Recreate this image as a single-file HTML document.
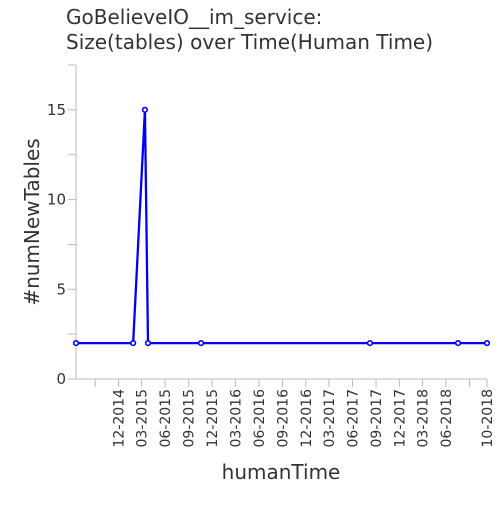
<!DOCTYPE html>
<html><head><meta charset="utf-8"><style>
body{margin:0;background:#fff}
svg text{font-family:"DejaVu Sans","Liberation Sans",sans-serif;fill:#333}
</style></head><body>
<svg id="c" width="500" height="500">
<text x="66" y="24" font-size="20">GoBelieveIO__im_service:</text>
<text x="66" y="49" font-size="20">Size(tables) over Time(Human Time)</text>
<text transform="translate(39,222) rotate(-90)" text-anchor="middle" font-size="20">#numNewTables</text>
<text x="281" y="479" text-anchor="middle" font-size="20">humanTime</text>
<g id="ax"></g><g id="pl"></g>
</svg>
<script>
const dates=["2014-06-18","2015-01-27","2015-03-14","2015-03-26","2015-10-19","2017-08-08","2018-07-18","2018-11-08"];
const values=[2,2,15,2,2,2,2,2];
const xTicks=["2014-09-01","2014-12-01","2015-03-01","2015-06-01","2015-09-01","2015-12-01","2016-03-01","2016-06-01","2016-09-01","2016-12-01","2017-03-01","2017-06-01","2017-09-01","2017-12-01","2018-03-01","2018-06-01","2018-09-01","2018-11-08"];
const xTickLabels=["","12-2014","03-2015","06-2015","09-2015","12-2015","03-2016","06-2016","09-2016","12-2016","03-2017","06-2017","09-2017","12-2017","03-2018","06-2018","","10-2018"];
const yTicks=[0,2.5,5,7.5,10,12.5,15,17.5];
const yTickLabels=["0","","5","","10","","15",""];
const NS="http://www.w3.org/2000/svg";
const X0=76,X1=487,Y0=379,Y1=65;
const t0=Date.parse(dates[0]),t1=Date.parse(dates[dates.length-1]);
const x=d=>X0+(Date.parse(d)-t0)/(t1-t0)*(X1-X0);
const y=v=>Y0-v/17.5*(Y0-Y1);
function mk(tag,at,p){const e=document.createElementNS(NS,tag);for(const k in at)e.setAttribute(k,at[k]);p.appendChild(e);return e;}
const ax=document.getElementById('ax'),pl=document.getElementById('pl');
let e=mk('line',{x1:X0,x2:X0,y1:Y1,y2:Y0,stroke:'#bbb'},ax);


e=mk('line',{x1:X0,x2:X1,y1:Y0,y2:Y0,stroke:'#bbb'},ax);


yTicks.forEach((v,i)=>{
 e=mk('line',{x1:X0-8,x2:X0,y1:y(v),y2:y(v),stroke:'#bbb'},ax);
 
 
 if(yTickLabels[i]){const t=mk('text',{x:X0-10,y:y(v)+5,'text-anchor':'end','font-size':15},ax);t.textContent=yTickLabels[i];
 
 }
});
xTicks.forEach((d,i)=>{
 const xx=x(d);
 e=mk('line',{x1:xx,x2:xx,y1:Y0,y2:Y0+8,stroke:'#bbb'},ax);
 
 
 if(xTickLabels[i]){const t=mk('text',{transform:`translate(${xx+5},${Y0+10}) rotate(-90)`,'text-anchor':'end','font-size':14},ax);t.textContent=xTickLabels[i];
 
 }
});
e=mk('polyline',{points:dates.map((d,i)=>x(d)+','+y(values[i])).join(' '),fill:'none',stroke:'#0000ff','stroke-width':2.3},pl);


dates.forEach((d,i)=>{
 const c=mk('circle',{cx:x(d),cy:y(values[i]),r:2.3,fill:'#fff',stroke:'#0000ff','stroke-width':1.6},pl);
 
 
});
</script>
</body></html>
